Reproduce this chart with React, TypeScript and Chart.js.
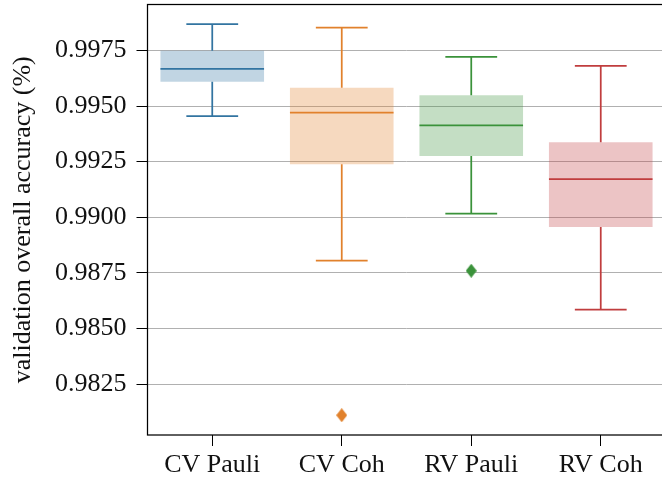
import React, { useEffect, useRef } from 'react';
import { Chart, registerables } from 'chart.js';

Chart.register(...registerables);

// ---- data ----
const categories = ['CV Pauli', 'CV Coh', 'RV Pauli', 'RV Coh'];
const whiskerLow = [0.99454, 0.98805, 0.99016, 0.98585];
const q1 = [0.99609, 0.99238, 0.99275, 0.98956];
const median = [0.99667, 0.9947, 0.99413, 0.99171];
const q3 = [0.99748, 0.99582, 0.99548, 0.99337];
const whiskerHigh = [0.99868, 0.99852, 0.99721, 0.9968];
const outlierCategory = ['CV Coh', 'RV Pauli'];
const outlierValue = [0.98111, 0.9876];
const yTicks = [0.9825, 0.985, 0.9875, 0.99, 0.9925, 0.995, 0.9975];
const yMin = 0.98022;
const yMax = 0.99956;
const yTitle = 'validation overall accuracy (%)';

// ---- style ----
const lineColors = ['rgb(50,116,161)', 'rgb(225,129,44)', 'rgb(58,146,58)', 'rgb(192,61,62)'];
const fillColors = ['rgba(50,116,161,0.3)', 'rgba(225,129,44,0.3)', 'rgba(58,146,58,0.3)', 'rgba(192,61,62,0.3)'];
const FONT = "'Liberation Serif', 'Times New Roman', serif";

Chart.defaults.font.family = FONT;

function makeDiamond(color: string) {
  const c = document.createElement('canvas');
  c.width = 11;
  c.height = 14;
  const g = c.getContext('2d')!;
  g.fillStyle = color;
  g.beginPath();
  g.moveTo(5.5, 0);
  g.lineTo(11, 7);
  g.lineTo(5.5, 14);
  g.lineTo(0, 7);
  g.closePath();
  g.fill();
  return c;
}

const boxLinesPlugin = {
  id: 'boxLines',
  afterDatasetsDraw(chart: any) {
    const { ctx, scales, chartArea } = chart;
    const x = scales.x;
    const y = scales.y;
    const band = x.getPixelForValue(1) - x.getPixelForValue(0);
    ctx.save();
    ctx.beginPath();
    ctx.rect(chartArea.left, chartArea.top, chartArea.right - chartArea.left, chartArea.bottom - chartArea.top);
    ctx.clip();
    ctx.lineWidth = 1.75;
    ctx.lineCap = 'butt';
    const seg = (x1: number, y1: number, x2: number, y2: number) => {
      ctx.beginPath();
      ctx.moveTo(x1, y1);
      ctx.lineTo(x2, y2);
      ctx.stroke();
    };
    categories.forEach((_, i) => {
      const cx = x.getPixelForValue(i);
      const boxHalf = band * 0.4;
      const capHalf = band * 0.2;
      ctx.strokeStyle = lineColors[i];
      seg(cx, y.getPixelForValue(q1[i]), cx, y.getPixelForValue(whiskerLow[i]));
      seg(cx, y.getPixelForValue(q3[i]), cx, y.getPixelForValue(whiskerHigh[i]));
      seg(cx - capHalf, y.getPixelForValue(whiskerLow[i]), cx + capHalf, y.getPixelForValue(whiskerLow[i]));
      seg(cx - capHalf, y.getPixelForValue(whiskerHigh[i]), cx + capHalf, y.getPixelForValue(whiskerHigh[i]));
      seg(cx - boxHalf, y.getPixelForValue(median[i]), cx + boxHalf, y.getPixelForValue(median[i]));
    });
    ctx.restore();
  },
  afterDraw(chart: any) {
    const { ctx, chartArea } = chart;
    ctx.save();
    ctx.strokeStyle = '#000';
    ctx.lineWidth = 1.25;
    ctx.strokeRect(chartArea.left, chartArea.top, chartArea.right - chartArea.left, chartArea.bottom - chartArea.top);
    ctx.restore();
  },
};

export default function App() {
  const ref = useRef<HTMLCanvasElement>(null);
  useEffect(() => {
    if (!ref.current) return;
    const outlierStyles = outlierCategory.map((c) => makeDiamond(lineColors[categories.indexOf(c)]));
    const chart = new Chart(ref.current, {
      type: 'bar',
      data: {
        labels: categories,
        datasets: [
          {
            type: 'bar',
            data: categories.map((_, i) => [q1[i], q3[i]]) as any,
            backgroundColor: fillColors,
            borderWidth: 0,
            barPercentage: 1,
            categoryPercentage: 0.8,
            grouped: false,
          } as any,
          {
            type: 'line',
            data: outlierCategory.map((c, i) => ({ x: c, y: outlierValue[i] })) as any,
            showLine: false,
            pointStyle: outlierStyles as any,
            pointRadius: 6,
            borderWidth: 0,
          } as any,
        ],
      },
      options: {
        responsive: false,
        animation: false,
        devicePixelRatio: 1,
        layout: { autoPadding: false, padding: { left: 0, right: 2.5, top: 4.5, bottom: 0 } },
        plugins: { legend: { display: false }, tooltip: { enabled: false } },
        scales: {
          x: {
            type: 'category',
            offset: true,
            grid: { display: true, drawOnChartArea: false, offset: false, tickLength: 11, tickColor: '#000', tickWidth: 1 },
            border: { display: false },
            ticks: { font: { family: FONT, size: 26 }, color: '#111', padding: 4, maxRotation: 0 },
            afterFit: (s: any) => {
              s.height = 45;
              s.paddingLeft = 0;
              s.paddingRight = 0;
              s.paddingTop = 0;
              s.paddingBottom = 0;
            },
          },
          y: {
            type: 'linear',
            min: yMin,
            max: yMax,
            afterBuildTicks: (s: any) => { s.ticks = yTicks.map((v) => ({ value: v })); },
            grid: { color: '#b0b0b0', lineWidth: 1, tickLength: 11, tickColor: '#000', tickWidth: 1 },
            border: { display: false },
            ticks: {
              font: { family: FONT, size: 26 },
              color: '#111',
              padding: 10,
              callback: (v: any) => Number(v).toFixed(4),
            },
            title: {
              display: true,
              text: yTitle,
              font: { family: FONT, size: 26 },
              color: '#111',
              padding: { top: 8, bottom: 0 },
            },
            afterFit: (s: any) => {
              s.width = 147.5;
              s.paddingLeft = 0;
              s.paddingRight = 0;
              s.paddingTop = 0;
              s.paddingBottom = 0;
            },
          },
        },
      },
      plugins: [boxLinesPlugin],
    } as any);
    return () => chart.destroy();
  }, []);
  return (
    <div style={{ position: 'fixed', left: 0, top: 0, width: 662, height: 480, overflow: 'hidden', background: '#fff' }}>
      <div style={{ position: 'absolute', left: 0, top: 0, width: 668, height: 480 }}>
        <canvas ref={ref} width={668} height={480} style={{ width: 668, height: 480, display: 'block' }} />
      </div>
    </div>
  );
}
